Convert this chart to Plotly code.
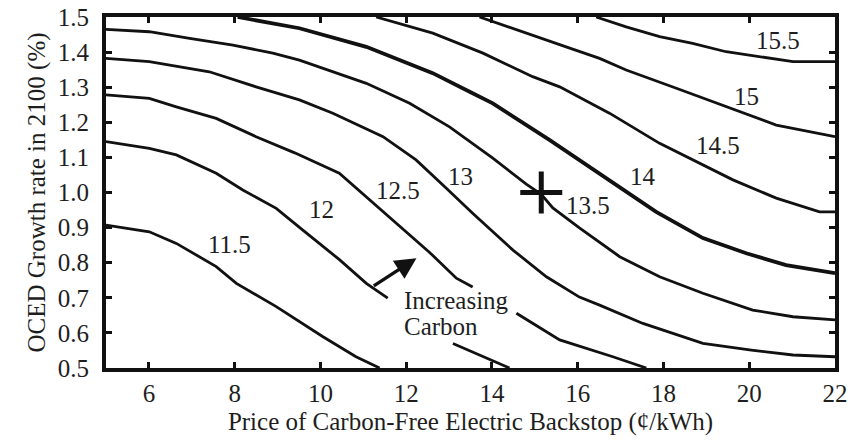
import plotly.graph_objects as go

# ---- contour lines (x: backstop price, y: growth rate) ----
c115_x = [5.0, 6.01, 6.64, 7.18, 7.57, 8.04, 8.97, 10.06, 10.83, 11.38]
c115_y = [0.907, 0.888, 0.855, 0.817, 0.789, 0.741, 0.675, 0.589, 0.532, 0.5]

c12_x = [5.0, 6.01, 6.64, 7.57, 8.19, 8.97, 9.59, 10.45, 11.07, 11.57, None, 13.09, 13.71, 14.41]
c12_y = [1.145, 1.126, 1.107, 1.055, 1.007, 0.955, 0.893, 0.808, 0.741, 0.699, None, 0.570, 0.537, 0.5]

c125_x = [5.0, 6.01, 6.64, 7.57, 8.50, 9.40, 10.44, 11.07, 11.38, 11.92, 12.54, 13.17, 13.55, None,
          14.57, 15.58, 16.82, 17.60]
c125_y = [1.278, 1.268, 1.244, 1.211, 1.159, 1.113, 1.055, 0.988, 0.956, 0.898, 0.830, 0.756, 0.731, None,
          0.656, 0.580, 0.532, 0.5]

c13_x = [5.0, 6.01, 7.41, 8.50, 9.51, 10.29, 11.46, 12.23, 12.93, 13.55, 14.49, 15.27, 16.04, 16.51,
         17.52, 18.92, 20.05, 21.02, 22.0]
c13_y = [1.382, 1.373, 1.344, 1.301, 1.264, 1.226, 1.159, 1.093, 1.013, 0.941, 0.836, 0.760, 0.702, 0.679,
         0.627, 0.570, 0.551, 0.537, 0.532]

c135_x = [5.0, 6.01, 6.95, 7.96, 8.89, 9.51, 11.07, 12.08, 13.01, 14.02, 14.80, 15.15, 15.42, 16.04,
          16.98, 17.91, 18.92, 20.08, 21.02, 22.0]
c135_y = [1.465, 1.458, 1.439, 1.420, 1.397, 1.377, 1.311, 1.254, 1.187, 1.098, 1.024, 0.995, 0.956, 0.899,
          0.817, 0.760, 0.713, 0.665, 0.646, 0.637]

c14_x = [8.07, 9.51, 11.07, 12.62, 13.48, 14.02, 15.34, 16.51, 17.44, 17.83, 18.92, 19.93, 20.86, 22.0]
c14_y = [1.5, 1.468, 1.415, 1.340, 1.287, 1.254, 1.150, 1.055, 0.979, 0.945, 0.870, 0.827, 0.793, 0.770]

c145_x = [11.30, 12.62, 13.79, 14.95, 15.58, 16.74, 17.91, 18.68, 19.62, 20.63, 21.64, 22.0]
c145_y = [1.5, 1.454, 1.397, 1.330, 1.301, 1.226, 1.140, 1.093, 1.036, 0.984, 0.945, 0.945]

c15_x = [13.71, 14.57, 15.73, 16.51, 17.13, 18.30, 19.46, 20.63, 22.0]
c15_y = [1.5, 1.463, 1.415, 1.382, 1.349, 1.297, 1.244, 1.192, 1.159]

c155_x = [16.43, 17.13, 17.91, 18.68, 19.46, 20.24, 21.02, 22.0]
c155_y = [1.5, 1.472, 1.444, 1.425, 1.401, 1.387, 1.373, 1.373]

# contour labels
label_text = ["11.5", "12", "12.5", "13", "13.5", "14", "14.5", "15", "15.5"]
label_x = [7.88, 10.03, 11.80, 13.26, 16.24, 17.53, 19.27, 19.93, 20.68]
label_y = [0.853, 0.953, 1.006, 1.047, 0.964, 1.046, 1.133, 1.273, 1.432]

# reference point
ref_x = [15.15]
ref_y = [1.0]

# "Increasing Carbon" arrow (tail -> head)
arrow_tail = (11.21, 0.731)
arrow_head = (12.24, 0.813)
note_lines = ["Increasing", "Carbon"]
note_x = 11.91
note_y = [0.692, 0.618]

x_ticks = [6, 8, 10, 12, 14, 16, 18, 20, 22]
y_ticks = [0.5, 0.6, 0.7, 0.8, 0.9, 1.0, 1.1, 1.2, 1.3, 1.4, 1.5]

FONT = "Liberation Serif, Times New Roman, serif"
INK = "#111111"
TXT = "#1e1e1e"

fig = go.Figure()

lines = [
    (c115_x, c115_y, 2.8), (c12_x, c12_y, 2.8), (c125_x, c125_y, 2.8),
    (c13_x, c13_y, 2.8), (c135_x, c135_y, 2.8), (c14_x, c14_y, 3.8),
    (c145_x, c145_y, 2.8), (c15_x, c15_y, 2.8), (c155_x, c155_y, 2.8),
]
for xs, ys, w in lines:
    fig.add_trace(go.Scatter(x=xs, y=ys, mode="lines", connectgaps=False,
                             line=dict(color=INK, width=w), hoverinfo="skip",
                             showlegend=False))

fig.add_trace(go.Scatter(x=ref_x, y=ref_y, mode="markers", showlegend=False,
                         marker=dict(symbol="cross-thin", size=30,
                                     line=dict(color=INK, width=5))))

for t, x, y in zip(label_text, label_x, label_y):
    fig.add_annotation(x=x, y=y, text=t, showarrow=False,
                       font=dict(family=FONT, size=25, color=TXT))

for t, y in zip(note_lines, note_y):
    fig.add_annotation(x=note_x, y=y, text=t, showarrow=False, xanchor="left",
                       font=dict(family=FONT, size=25, color=TXT))

fig.add_annotation(x=arrow_head[0], y=arrow_head[1], ax=arrow_tail[0], ay=arrow_tail[1],
                   axref="x", ayref="y", xref="x", yref="y", text="",
                   showarrow=True, arrowhead=2, arrowsize=1.25, arrowwidth=3.4,
                   arrowcolor=INK)

axis_common = dict(showline=True, linewidth=3.8, linecolor=INK, mirror="ticks",
                   ticks="inside", ticklen=6, tickwidth=2.5, tickcolor=INK,
                   showgrid=False, zeroline=False,
                   tickfont=dict(family=FONT, size=25, color=TXT))

fig.update_xaxes(range=[5, 22], tickvals=x_ticks, ticklabelstandoff=0,
                 title=dict(text="Price of Carbon-Free Electric Backstop (¢/kWh)",
                            font=dict(family=FONT, size=25, color=TXT), standoff=8),
                 **axis_common)
fig.update_yaxes(range=[0.5, 1.5], tickvals=y_ticks, tickformat=".1f", ticklabelstandoff=8,
                 title=dict(text="OCED Growth rate in 2100 (%)",
                            font=dict(family=FONT, size=25, color=TXT), standoff=6),
                 **axis_common)

fig.update_layout(width=852, height=440, margin=dict(l=106, r=17, t=17, b=72, autoexpand=False),
                  plot_bgcolor="white", paper_bgcolor="white")

fig.write_html("out.html")
